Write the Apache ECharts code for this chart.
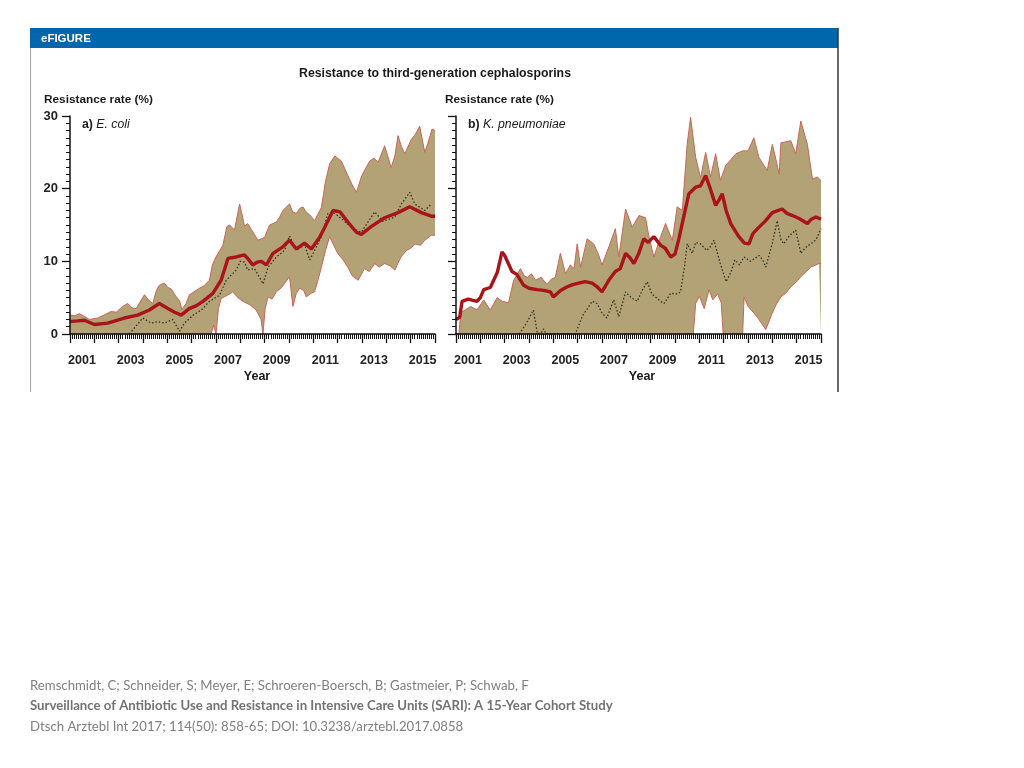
<!DOCTYPE html>
<html>
<head>
<meta charset="utf-8">
<script src="https://cdn.jsdelivr.net/npm/echarts@6/dist/echarts.min.js"></script>
<style>
html,body{margin:0;padding:0;background:#fff;}
#c{width:1024px;height:768px;}
</style>
</head>
<body>
<div id="c"></div>
<script>
// ---- Data: [year (decimal), resistance rate %] ----
const xTickYears = [2001, 2003, 2005, 2007, 2009, 2011, 2013, 2015];
const yTicks = [0, 10, 20, 30];

// a) E. coli
const ecoliUpper = [[2001.0,2.6],[2001.2,2.5],[2001.38,2.8],[2001.6,2.4],[2001.8,2.0],[2002.14,2.2],[2002.4,2.6],[2002.69,3.1],[2002.9,3.0],[2003.16,3.8],[2003.37,4.2],[2003.55,3.6],[2003.72,3.5],[2004.06,5.4],[2004.25,4.6],[2004.4,4.2],[2004.55,6.0],[2004.67,6.7],[2004.88,7.0],[2005.02,6.4],[2005.16,6.2],[2005.35,5.2],[2005.5,4.6],[2005.6,3.4],[2005.77,4.2],[2005.91,5.4],[2006.1,5.8],[2006.32,6.3],[2006.5,6.6],[2006.73,7.4],[2006.85,9.5],[2007.0,10.6],[2007.28,12.2],[2007.45,14.8],[2007.56,15.0],[2007.76,14.3],[2007.97,17.9],[2008.1,16.0],[2008.17,14.8],[2008.3,15.2],[2008.45,14.4],[2008.72,12.9],[2009.0,13.3],[2009.2,15.0],[2009.48,15.4],[2009.6,16.0],[2009.75,17.0],[2010.02,17.9],[2010.15,16.8],[2010.3,16.6],[2010.45,17.3],[2010.57,17.5],[2010.7,16.8],[2010.85,16.4],[2011.05,15.6],[2011.19,16.5],[2011.33,17.4],[2011.5,21.0],[2011.67,23.4],[2011.88,24.5],[2012.15,23.8],[2012.42,21.8],[2012.6,20.5],[2012.77,19.5],[2012.97,21.6],[2013.15,22.8],[2013.32,23.8],[2013.5,24.2],[2013.66,23.6],[2013.93,25.9],[2014.2,22.9],[2014.35,24.5],[2014.48,27.3],[2014.62,25.8],[2014.76,24.8],[2015.03,26.8],[2015.2,27.5],[2015.37,28.6],[2015.58,25.0],[2015.7,26.2],[2015.88,28.2],[2016.0,28.0]];
const ecoliLower = [[2001.0,0],[2006.8,0],[2006.9,1.2],[2007.0,0],[2007.1,3.5],[2007.21,4.9],[2007.45,5.3],[2007.69,5.8],[2007.9,5.0],[2008.1,4.5],[2008.4,4.0],[2008.65,3.3],[2008.85,2.0],[2008.93,0],[2009.02,3.5],[2009.14,5.1],[2009.3,4.8],[2009.48,5.8],[2009.7,6.4],[2010.02,7.9],[2010.16,3.8],[2010.3,5.6],[2010.44,6.3],[2010.6,6.0],[2010.71,5.1],[2010.9,5.6],[2011.05,5.8],[2011.2,7.5],[2011.33,9.2],[2011.5,11.5],[2011.67,13.4],[2011.81,12.4],[2012.0,11.1],[2012.2,10.3],[2012.42,9.2],[2012.6,8.0],[2012.84,7.4],[2013.1,9.0],[2013.3,8.6],[2013.52,9.7],[2013.7,9.2],[2013.93,9.7],[2014.15,9.4],[2014.35,8.8],[2014.6,10.6],[2014.83,11.5],[2015.0,11.8],[2015.17,12.4],[2015.4,12.2],[2015.58,12.9],[2015.85,13.6],[2016.0,13.6]];
const ecoliMean = [[2001.0,1.7],[2001.3,1.8],[2001.59,1.9],[2002.0,1.3],[2002.55,1.5],[2003.23,2.2],[2003.78,2.6],[2004.26,3.3],[2004.67,4.2],[2005.02,3.5],[2005.3,3.0],[2005.57,2.6],[2005.9,3.5],[2006.2,3.9],[2006.46,4.5],[2006.87,5.6],[2007.21,7.4],[2007.49,10.4],[2007.83,10.6],[2008.17,10.9],[2008.35,10.2],[2008.51,9.5],[2008.7,9.9],[2008.86,10.0],[2009.07,9.5],[2009.34,11.1],[2009.75,12.0],[2010.02,12.9],[2010.3,11.7],[2010.64,12.5],[2010.92,11.7],[2011.26,13.3],[2011.47,14.7],[2011.81,17.0],[2012.1,16.8],[2012.42,15.4],[2012.77,14.0],[2012.97,13.7],[2013.39,14.8],[2013.93,16.0],[2014.48,16.7],[2014.96,17.5],[2015.44,16.7],[2015.88,16.2],[2016.0,16.2]];
const ecoliObs = [[2003.44,0],[2003.99,2.2],[2004.33,1.5],[2004.6,1.7],[2004.88,1.5],[2005.22,2.0],[2005.5,0.4],[2005.7,1.5],[2006.1,2.7],[2006.4,3.3],[2006.73,4.5],[2007.14,5.3],[2007.42,7.4],[2007.83,8.8],[2008.0,10.0],[2008.17,9.9],[2008.3,8.8],[2008.58,9.0],[2008.79,7.8],[2008.93,6.9],[2009.14,9.2],[2009.48,10.6],[2009.82,11.5],[2010.02,13.5],[2010.3,11.5],[2010.64,12.3],[2010.85,10.2],[2011.05,11.5],[2011.33,13.4],[2011.6,16.6],[2011.88,16.6],[2012.22,15.7],[2012.63,14.5],[2012.97,14.0],[2013.52,16.8],[2013.86,15.5],[2014.35,16.1],[2014.62,17.9],[2014.96,19.5],[2015.17,17.9],[2015.58,17.0],[2015.85,17.9]];

// b) K. pneumoniae
const kpUpper = [[2001.0,0],[2001.12,0],[2001.2,3.0],[2001.38,3.3],[2001.6,3.8],[2001.86,3.3],[2002.14,4.7],[2002.41,3.3],[2002.69,5.0],[2002.9,4.5],[2003.16,4.3],[2003.37,7.4],[2003.65,9.0],[2003.8,8.0],[2003.93,7.8],[2004.1,8.3],[2004.27,7.4],[2004.5,7.8],[2004.74,6.8],[2004.9,7.5],[2005.08,7.8],[2005.29,11.1],[2005.5,8.3],[2005.7,9.5],[2005.85,9.0],[2005.98,12.4],[2006.12,9.2],[2006.39,13.1],[2006.66,12.4],[2006.85,11.0],[2007.0,9.5],[2007.28,12.0],[2007.55,14.5],[2007.69,10.6],[2007.97,17.2],[2008.24,14.7],[2008.52,16.3],[2008.79,16.0],[2008.93,13.4],[2009.13,10.6],[2009.41,13.4],[2009.61,15.2],[2009.89,12.9],[2010.09,17.5],[2010.3,17.0],[2010.5,26.1],[2010.64,29.8],[2010.85,24.3],[2011.05,21.5],[2011.26,25.0],[2011.46,21.6],[2011.67,24.8],[2011.87,21.1],[2012.08,23.2],[2012.3,24.0],[2012.5,24.8],[2012.78,25.2],[2013.0,25.2],[2013.24,27.0],[2013.45,24.3],[2013.79,22.5],[2014.0,26.1],[2014.15,24.0],[2014.28,22.0],[2014.35,26.3],[2014.76,26.6],[2014.96,24.8],[2015.17,29.3],[2015.44,26.1],[2015.65,21.3],[2015.85,21.6],[2016.0,21.1]];
const kpLower = [[2001.0,0],[2010.75,0],[2010.85,4.2],[2011.0,5.2],[2011.2,3.5],[2011.4,6.1],[2011.55,4.7],[2011.75,5.5],[2011.9,4.3],[2011.98,0],[2012.78,0],[2012.84,5.1],[2013.0,3.8],[2013.24,2.9],[2013.45,2.0],[2013.73,0.6],[2014.0,2.9],[2014.15,4.0],[2014.35,5.1],[2014.55,5.6],[2014.76,6.5],[2015.0,7.2],[2015.17,7.9],[2015.4,8.6],[2015.58,9.2],[2015.92,9.7],[2016.0,9.7]];
const kpMean = [[2001.0,2.0],[2001.15,2.3],[2001.25,4.5],[2001.5,4.8],[2001.86,4.5],[2002.0,5.0],[2002.14,6.1],[2002.41,6.4],[2002.7,8.5],[2002.89,11.3],[2003.0,10.8],[2003.3,8.6],[2003.5,8.2],[2003.78,6.7],[2004.0,6.3],[2004.33,6.1],[2004.6,6.0],[2004.88,5.8],[2005.0,5.1],[2005.3,6.0],[2005.57,6.5],[2005.8,6.8],[2006.04,7.0],[2006.3,7.2],[2006.6,7.0],[2006.8,6.5],[2007.0,5.8],[2007.3,7.5],[2007.55,8.6],[2007.75,9.0],[2007.97,11.1],[2008.15,10.5],[2008.31,9.7],[2008.5,11.0],[2008.72,13.1],[2008.9,12.6],[2009.13,13.4],[2009.41,12.2],[2009.6,11.8],[2009.82,10.6],[2010.0,11.0],[2010.16,13.1],[2010.35,16.0],[2010.57,19.3],[2010.85,20.2],[2011.05,20.4],[2011.26,21.8],[2011.45,20.0],[2011.67,17.7],[2011.82,18.5],[2011.94,19.3],[2012.1,17.0],[2012.29,15.2],[2012.6,13.5],[2012.85,12.5],[2013.04,12.4],[2013.2,13.8],[2013.39,14.5],[2013.7,15.5],[2014.0,16.7],[2014.4,17.2],[2014.6,16.6],[2014.83,16.3],[2015.1,15.9],[2015.44,15.2],[2015.6,15.8],[2015.79,16.1],[2016.0,15.8]];
const kpObs = [[2003.6,0],[2003.9,1.5],[2004.18,3.3],[2004.35,0],[2004.5,0.2],[2004.6,0.7],[2004.7,0],[2005.9,0],[2006.2,2.5],[2006.4,3.5],[2006.6,4.5],[2006.8,4.2],[2007.0,2.9],[2007.2,2.2],[2007.48,4.7],[2007.69,2.4],[2007.97,5.8],[2008.2,5.0],[2008.45,4.5],[2008.65,6.0],[2008.86,7.2],[2009.05,5.5],[2009.2,5.1],[2009.4,4.5],[2009.55,4.2],[2009.82,5.6],[2010.1,5.5],[2010.23,5.8],[2010.4,9.5],[2010.5,12.4],[2010.71,11.1],[2010.85,12.6],[2011.05,12.4],[2011.3,11.5],[2011.45,12.0],[2011.6,12.9],[2011.86,9.7],[2012.1,7.2],[2012.3,8.5],[2012.46,10.2],[2012.65,9.5],[2012.84,10.6],[2013.1,10.0],[2013.45,10.8],[2013.6,10.2],[2013.73,9.2],[2014.0,12.5],[2014.2,15.6],[2014.35,13.0],[2014.47,12.4],[2014.7,13.5],[2014.96,14.3],[2015.17,11.1],[2015.4,12.0],[2015.58,12.4],[2015.8,13.0],[2016.0,14.5]];

// ---- Styling ----
const SANS = "'Liberation Sans',Arial,Helvetica,sans-serif";
const BAND = '#b3a275';
const EDGE = '#c8665a';
const MEAN = '#a9141a';
const OBS = '#2e3320';

const chart = echarts.init(document.getElementById('c'), null, {renderer: 'canvas'});

function xAxisDef(gridIndex) {
  return {
    type: 'value', gridIndex, min: 2001, max: 2016, interval: 1, z: 5,
    axisLine: {lineStyle: {color: '#111', width: 1.5}},
    axisTick: {show: true, length: 9, lineStyle: {color: '#111', width: 1.3}},
    minorTick: {show: true, splitNumber: 12, length: 5, lineStyle: {color: '#111', width: 1}},
    splitLine: {show: false},
    axisLabel: {
      margin: 20, padding: [0, 0, 0, 24],
      fontFamily: SANS, fontWeight: 'bold', fontSize: 12.5, color: '#222',
      formatter: v => xTickYears.indexOf(v) >= 0 ? String(v) : ''
    }
  };
}
function yAxisDef(gridIndex, showLabels) {
  return {
    type: 'value', gridIndex, min: yTicks[0], max: yTicks[yTicks.length - 1], interval: 10, z: 5,
    axisLine: {show: true, lineStyle: {color: '#111', width: 1.5}},
    axisTick: {show: true, length: 8, lineStyle: {color: '#111', width: 1.3}},
    minorTick: {show: true, splitNumber: 10, length: 4, lineStyle: {color: '#111', width: 1}},
    splitLine: {show: false},
    axisLabel: {
      show: showLabels, margin: 12,
      fontFamily: SANS, fontWeight: 'bold', fontSize: 13, color: '#222'
    }
  };
}
function panelSeries(idx, upper, lower, mean, obs) {
  const base = {type: 'line', xAxisIndex: idx, yAxisIndex: idx, showSymbol: false, symbol: 'none', silent: true, animation: false};
  return [
    Object.assign({}, base, {name: 'upper' + idx, data: upper, lineStyle: {color: EDGE, width: 1}, areaStyle: {color: BAND, opacity: 1}}),
    Object.assign({}, base, {name: 'lower' + idx, data: lower, lineStyle: {color: EDGE, width: 1}, areaStyle: {color: '#ffffff', opacity: 1}}),
    Object.assign({}, base, {name: 'obs' + idx, data: obs, lineStyle: {color: OBS, width: 1.3, type: [1.5, 2]}}),
    Object.assign({}, base, {name: 'mean' + idx, data: mean, lineStyle: {color: MEAN, width: 3.4}})
  ];
}

const txt = (x, y, text, extra) => ({type: 'text', x, y, style: Object.assign({text, fill: '#1a1a1a', fontFamily: SANS, fontWeight: 'bold', fontSize: 11.8, textVerticalAlign: 'middle'}, extra || {})});
const panelTitle = (x, letter, name) => ({type: 'text', x, y: 125, style: {
  text: '{b|' + letter + '} {i|' + name + '}', textVerticalAlign: 'middle',
  rich: {b: {fontFamily: SANS, fontWeight: 'bold', fontSize: 12.3, fill: '#1a1a1a'},
         i: {fontFamily: SANS, fontStyle: 'italic', fontSize: 12.3, fill: '#1a1a1a'}}}});
const footer = (y, text, bold) => ({type: 'text', x: 30, y, style: {text, fill: bold ? '#737373' : '#808080', fontFamily: 'Lato, sans-serif', fontWeight: bold ? 'bold' : 'normal', fontSize: 13.2, textVerticalAlign: 'middle'}});

const option = {
  animation: false,
  backgroundColor: '#ffffff',
  grid: [
    {left: 70, top: 116, width: 365, height: 218},
    {left: 456, top: 116, width: 365, height: 218}
  ],
  xAxis: [xAxisDef(0), xAxisDef(1)],
  yAxis: [yAxisDef(0, true), yAxisDef(1, false)],
  series: [].concat(
    panelSeries(0, ecoliUpper, ecoliLower, ecoliMean, ecoliObs),
    panelSeries(1, kpUpper, kpLower, kpMean, kpObs)
  ),
  graphic: [
    {type: 'rect', shape: {x: 30, y: 28, width: 808, height: 20}, style: {fill: '#0067ac'}},
    {type: 'line', shape: {x1: 30.5, y1: 48, x2: 30.5, y2: 392}, style: {stroke: '#a0a0a0', lineWidth: 1}},
    {type: 'line', shape: {x1: 838, y1: 28, x2: 838, y2: 392}, style: {stroke: '#333', lineWidth: 1.5}},
    txt(41, 38.5, 'eFIGURE', {fill: '#ffffff', fontSize: 11.5}),
    txt(435, 74, 'Resistance to third-generation cephalosporins', {textAlign: 'center', fontSize: 12.3}),
    txt(44, 100, 'Resistance rate (%)'),
    txt(445, 100, 'Resistance rate (%)'),
    panelTitle(82, 'a)', 'E. coli'),
    panelTitle(468, 'b)', 'K. pneumoniae'),
    txt(257, 377, 'Year', {textAlign: 'center', fontSize: 12.5}),
    txt(642, 377, 'Year', {textAlign: 'center', fontSize: 12.5}),
    footer(686, 'Remschmidt, C; Schneider, S; Meyer, E; Schroeren-Boersch, B; Gastmeier, P; Schwab, F', false),
    footer(706, 'Surveillance of Antibiotic Use and Resistance in Intensive Care Units (SARI): A 15-Year Cohort Study', true),
    footer(727, 'Dtsch Arztebl Int 2017; 114(50): 858-65; DOI: 10.3238/arztebl.2017.0858', false)
  ]
};
chart.setOption(option);
</script>
</body>
</html>
